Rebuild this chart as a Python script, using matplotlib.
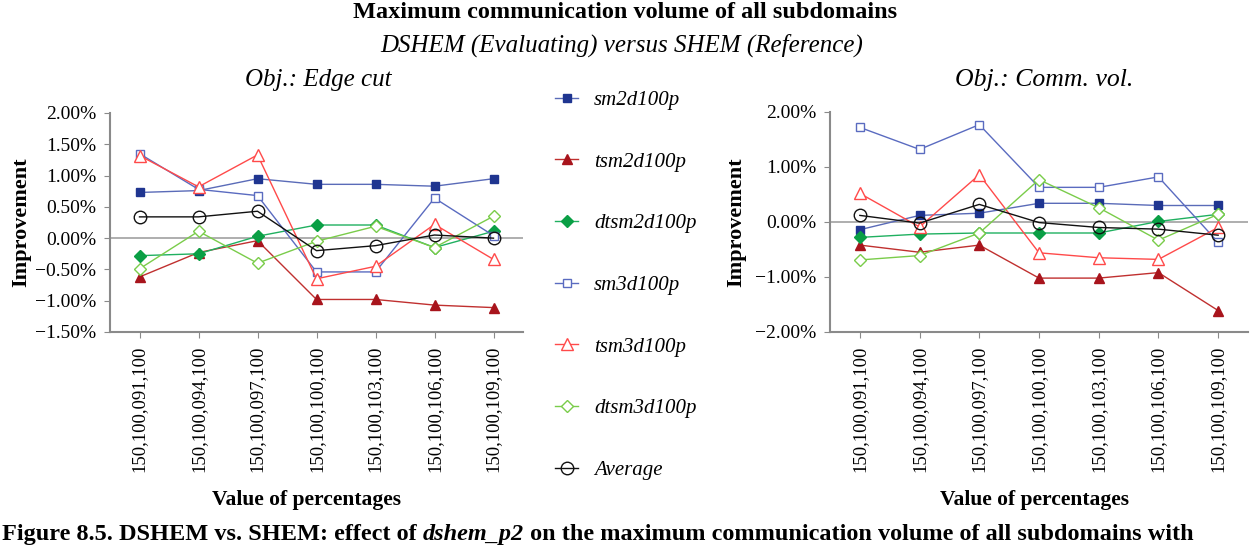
import matplotlib
matplotlib.use("Agg")
import matplotlib.pyplot as plt
from matplotlib.ticker import FuncFormatter

plt.rcParams['font.family'] = ['Liberation Serif', 'DejaVu Serif']
plt.rcParams['axes.unicode_minus'] = True

categories = ["150,100,091,100", "150,100,094,100", "150,100,097,100",
              "150,100,100,100", "150,100,103,100", "150,100,106,100",
              "150,100,109,100"]
series_names = ["sm2d100p", "tsm2d100p", "dtsm2d100p", "sm3d100p",
                "tsm3d100p", "dtsm3d100p", "Average"]

# Left panel: Obj.: Edge cut (values in %)
edge_sm2d = [0.73, 0.76, 0.95, 0.86, 0.86, 0.83, 0.95]
edge_tsm2d = [-0.62, -0.23, -0.04, -0.98, -0.98, -1.07, -1.11]
edge_dtsm2d = [-0.28, -0.25, 0.03, 0.21, 0.21, -0.15, 0.11]
edge_sm3d = [1.35, 0.78, 0.68, -0.54, -0.54, 0.64, 0.04]
edge_tsm3d = [1.32, 0.82, 1.33, -0.65, -0.45, 0.22, -0.34]
edge_dtsm3d = [-0.49, 0.11, -0.40, -0.05, 0.19, -0.15, 0.35]
edge_avg = [0.34, 0.34, 0.43, -0.20, -0.12, 0.05, 0.00]

# Right panel: Obj.: Comm. vol. (values in %)
comm_sm2d = [-0.14, 0.12, 0.16, 0.34, 0.34, 0.30, 0.30]
comm_tsm2d = [-0.42, -0.55, -0.42, -1.02, -1.02, -0.92, -1.61]
comm_dtsm2d = [-0.28, -0.22, -0.20, -0.20, -0.20, 0.01, 0.14]
comm_sm3d = [1.72, 1.32, 1.77, 0.63, 0.63, 0.82, -0.37]
comm_tsm3d = [0.52, -0.09, 0.86, -0.56, -0.65, -0.68, -0.10]
comm_dtsm3d = [-0.69, -0.61, -0.20, 0.77, 0.26, -0.33, 0.14]
comm_avg = [0.12, -0.02, 0.32, -0.01, -0.10, -0.13, -0.24]

edge_data = [edge_sm2d, edge_tsm2d, edge_dtsm2d, edge_sm3d, edge_tsm3d, edge_dtsm3d, edge_avg]
comm_data = [comm_sm2d, comm_tsm2d, comm_dtsm2d, comm_sm3d, comm_tsm3d, comm_dtsm3d, comm_avg]

styles = [
    dict(color='#5a6bb8', marker='s', mfc='#1f3590', mec='#1f3590', ms=6),
    dict(color='#c0302f', marker='^', mfc='#a8141c', mec='#a8141c', ms=7),
    dict(color='#20b060', marker='D', mfc='#0a9f45', mec='#0a9f45', ms=6),
    dict(color='#5a6bc0', marker='s', mfc='white', mec='#5a6bc0', ms=6),
    dict(color='#ff4a4a', marker='^', mfc='white', mec='#ff4a4a', ms=8),
    dict(color='#7acc4a', marker='D', mfc='white', mec='#7acc4a', ms=6),
    dict(color='#111111', marker='o', mfc='none', mec='#111111', ms=9),
]

W, H = 1250, 546
fig = plt.figure(figsize=(W / 100, H / 100), dpi=100)


def px_axes(x0, x1, y0, y1):
    return fig.add_axes([x0 / W, 1 - y1 / H, (x1 - x0) / W, (y1 - y0) / H])


ax1 = px_axes(110, 523, 113, 332)
ax2 = px_axes(830, 1248, 112, 332)

spine_c = '#8a8a8a'
pct = FuncFormatter(lambda v, p: ("%.2f%%" % v).replace('-', '\u2212'))

for ax, data, ylim, yticks in [
        (ax1, edge_data, (-1.5, 2.0), [-1.5, -1.0, -0.5, 0.0, 0.5, 1.0, 1.5, 2.0]),
        (ax2, comm_data, (-2.0, 2.0), [-2.0, -1.0, 0.0, 1.0, 2.0])]:
    x = list(range(len(categories)))
    ax.axhline(0, color='#a8a8a8', lw=1.3, zorder=1)
    for vals, st, name in zip(data, styles, series_names):
        ax.plot(x, vals, lw=1.0, mew=1.0, label=name, zorder=3, **st)
    ax.set_ylim(*ylim)
    ax.set_yticks(yticks)
    ax.yaxis.set_major_formatter(pct)
    ax.set_xlim(-0.5, len(categories) - 0.5)
    ax.set_xticks(x)
    ax.set_xticklabels(categories, rotation=90, fontsize=13.5)
    for s in ['top', 'right']:
        ax.spines[s].set_visible(False)
    for s in ['left', 'bottom']:
        ax.spines[s].set_color(spine_c)
        ax.spines[s].set_linewidth(1.5)
    ax.tick_params(axis='y', direction='out', length=4, color=spine_c, labelsize=14, pad=6)
    ax.tick_params(axis='x', direction='out', length=4, color=spine_c, pad=6)
    ax.set_ylabel('Improvement', fontsize=16, fontweight='bold')
    ax.set_xlabel('Value of percentages', fontsize=15.5, fontweight='bold')

ax1.yaxis.set_label_coords(-0.19, 0.5)
ax2.yaxis.set_label_coords(-0.2, 0.5)
ax1.xaxis.set_label_coords(0.475, -0.72)
ax2.xaxis.set_label_coords(0.49, -0.72)

fig.text(625 / W, 1 - 12 / H, 'Maximum communication volume of all subdomains',
         ha='center', va='center', fontsize=17.5, fontweight='bold')
fig.text(622 / W, 1 - 45 / H, 'DSHEM (Evaluating) versus SHEM (Reference)',
         ha='center', va='center', fontsize=18, style='italic')
fig.text(318 / W, 1 - 80 / H, 'Obj.: Edge cut', ha='center', va='center',
         fontsize=18, style='italic')
fig.text(1044 / W, 1 - 80 / H, 'Obj.: Comm. vol.', ha='center', va='center',
         fontsize=18.5, style='italic')

handles, labels = ax1.get_legend_handles_labels()
leg = fig.legend(handles, labels, loc='upper left',
                 bbox_to_anchor=(547 / W, 1 - 82 / H), frameon=False,
                 prop={'family': 'Liberation Serif', 'style': 'italic', 'size': 15},
                 labelspacing=2.02, handlelength=1.1, handletextpad=0.75,
                 borderaxespad=0)

# Caption (at bottom edge)
fig.canvas.draw()
renderer = fig.canvas.get_renderer()
parts = [("Figure 8.5. DSHEM vs. SHEM: effect of ", 'normal'),
         ("dshem_p2", 'italic'),
         (" on the maximum communication volume of all subdomains with", 'normal')]
xpos = 2
ybase = 1 - 540 / H
for txt, sty in parts:
    t = fig.text(xpos / W, ybase, txt, ha='left', va='baseline', fontsize=17.5,
                 fontweight='bold', style=sty)
    bb = t.get_window_extent(renderer=renderer)
    xpos += bb.width

fig.savefig('out.png', dpi=100)
